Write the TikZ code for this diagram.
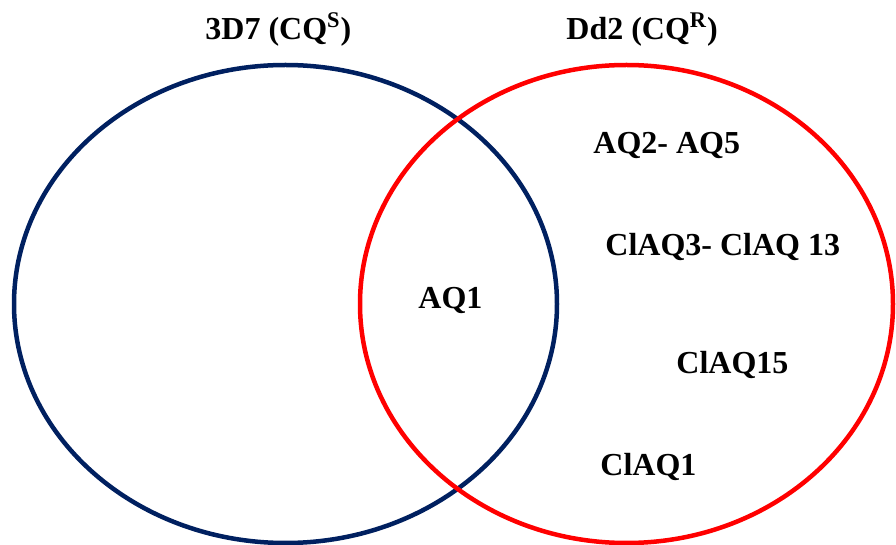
\documentclass[tikz,border=0pt]{standalone}
\usepackage{fontspec}
\setmainfont{Liberation Serif}
\definecolor{vennblue}{HTML}{002060}
\definecolor{vennred}{HTML}{FF0000}
\begin{document}
\begin{tikzpicture}[x=0.5pt,y=-0.5pt,
  setlabel/.style={inner sep=0pt,anchor=base west,font=\fontsize{16}{19}\selectfont\bfseries},
  ring/.style={line width=2.25pt}]
\useasboundingbox (0,0) rectangle (896,545);
\draw[ring,vennblue] (285.5,304) ellipse [x radius=271.5*0.5pt, y radius=239*0.5pt];
\draw[ring,vennred] (626.5,304) ellipse [x radius=266.5*0.5pt, y radius=239*0.5pt];
\node[setlabel] (t1) at (205,40) {3D7 (CQ\textsuperscript{S})};
\node[setlabel] (t2) at (566,40) {Dd2 (CQ\textsuperscript{R})};
\node[setlabel] (a1) at (418,308.5) {AQ1};
\node[setlabel] (a2) at (593,153.5) {AQ2- AQ5};
\node[setlabel] (a3) at (605,255.5) {ClAQ3- ClAQ 13};
\node[setlabel] (a4) at (676,373.5) {ClAQ15};
\node[setlabel] (a5) at (600,475.5) {ClAQ1};
\end{tikzpicture}
\end{document}
